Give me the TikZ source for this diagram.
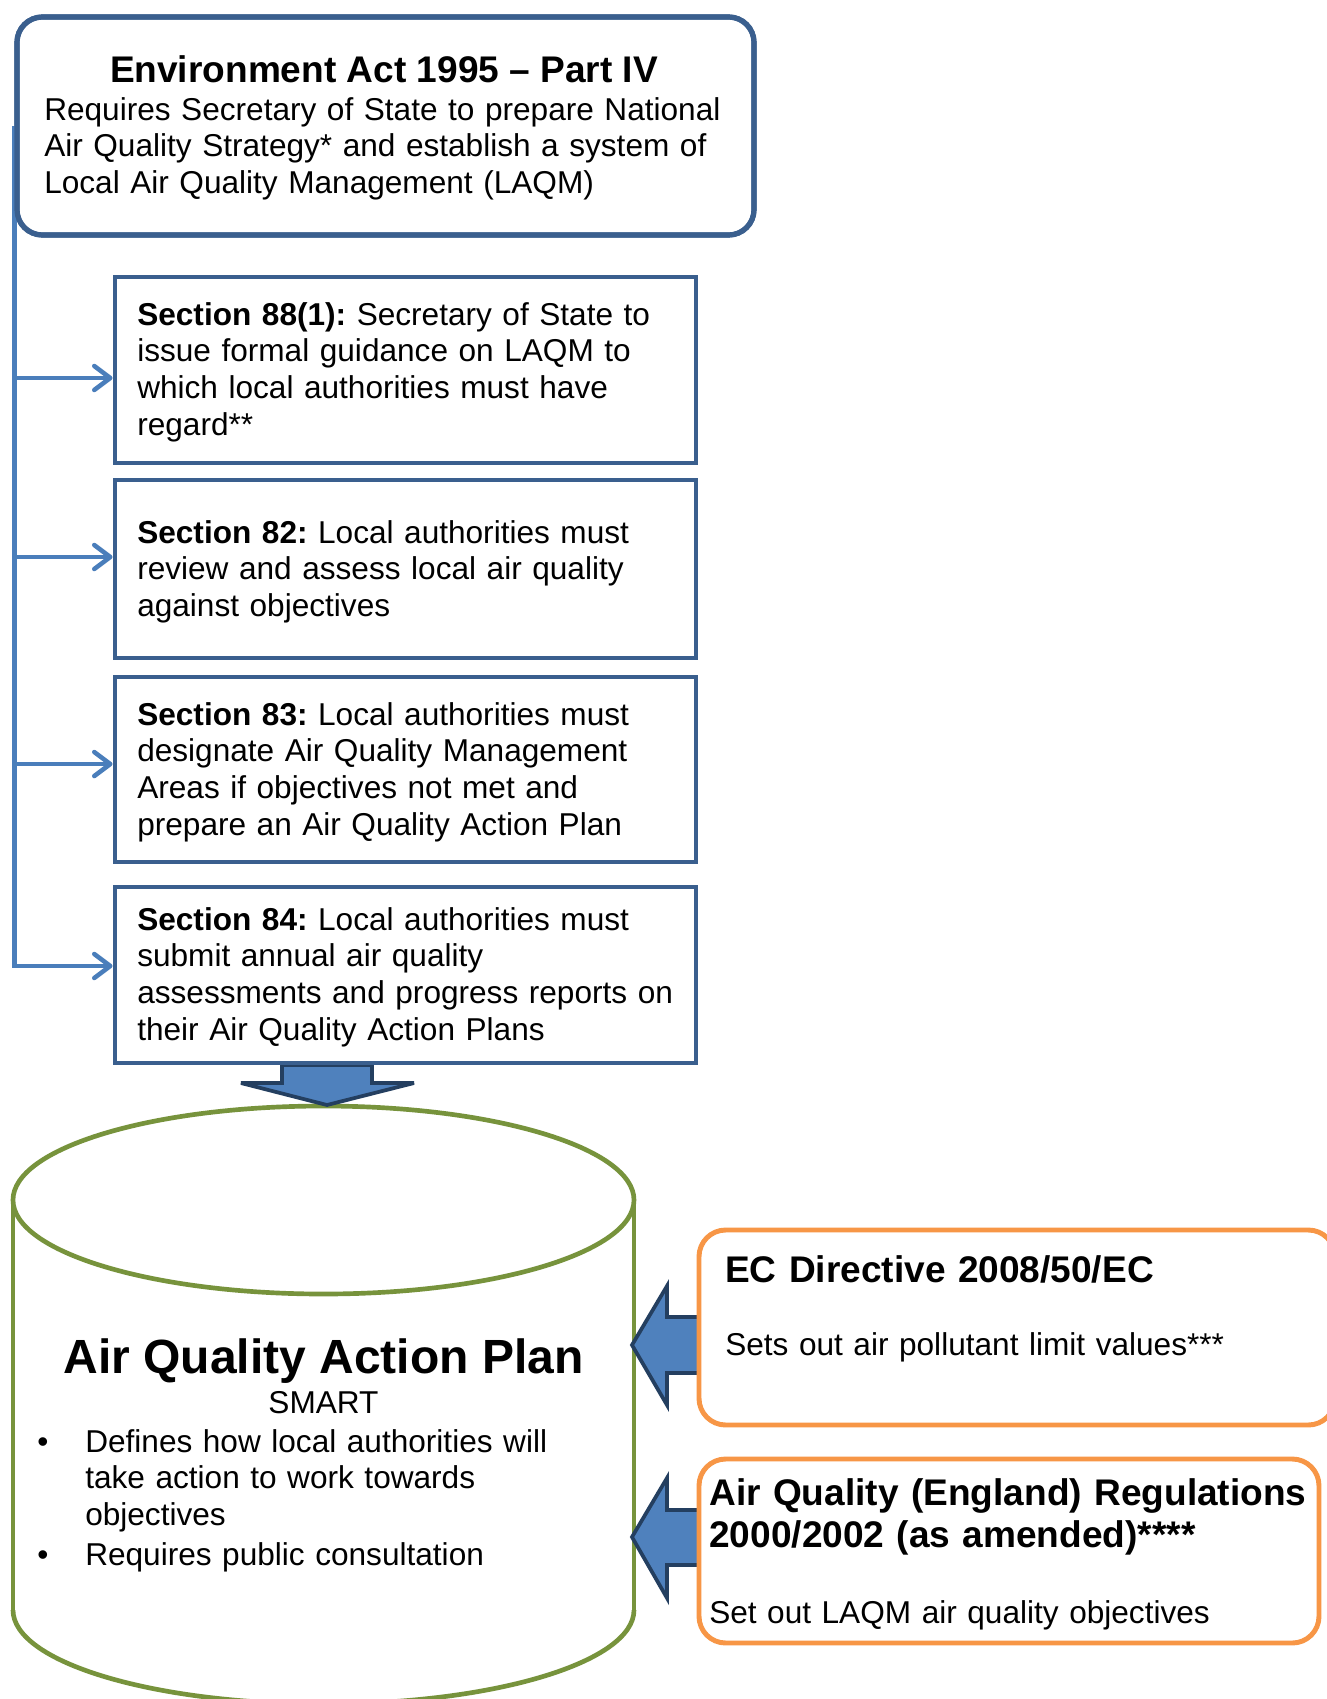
\documentclass[tikz,border=0pt]{standalone}
\usepackage{fontspec}
\setmainfont{Liberation Sans}
\usetikzlibrary{arrows.meta}
\definecolor{boxblue}{HTML}{3A5F8E}
\definecolor{connblue}{HTML}{4A7EBB}
\definecolor{arrfill}{HTML}{4F81BD}
\definecolor{arrline}{HTML}{243F60}
\definecolor{cylgreen}{HTML}{77933C}
\definecolor{boxorange}{HTML}{F79646}
\newcommand\myBody{\fontsize{23.7}{27.6}\selectfont}
\newcommand\myHead{\fontsize{27.8}{32.2}\selectfont\bfseries}
\newcommand\myBig{\fontsize{36}{41.4}\selectfont\bfseries}
\frenchspacing
\begin{document}
\begin{tikzpicture}[x=0.75pt,y=-0.75pt,
  actbox/.style={draw=boxblue, line width=3.9pt, fill=white, rounded corners=19pt, inner sep=0pt},
  secbox/.style={draw=boxblue, line width=3.7pt, fill=white, inner sep=0pt, minimum width=435.75pt},
  orbox/.style={draw=boxorange, line width=3.7pt, fill=white, rounded corners=20pt, inner sep=0pt},
  conn/.style={draw=connblue, line width=3.4pt},
  connarrow/.style={conn, -{Straight Barb[length=12pt,width=18pt,round]}},
  blockarrow/.style={fill=arrfill, draw=arrline, line width=2.8pt, line join=miter},
  cylline/.style={draw=cylgreen, line width=3.5pt},
  cylside/.style={draw=cylgreen, line width=2.6pt},
  txt/.style={inner sep=0pt, font=\myBody, text width=600pt, align=left, anchor=base west},
  htxt/.style={inner sep=0pt, font=\myHead, text width=640pt, align=left, anchor=base west}]
\clip (0,0) rectangle (1327,1699);
\fill[white] (0,0) rectangle (1327,1699);

% ---- cylinder ----
\draw[cylside] (13,1200) -- (13,1612);
\draw[cylside] (634,1200) -- (634,1612);
\begin{scope}
  \clip (0,1610) rectangle (1327,1710);
  \draw[cylline] (323.5,1610) ellipse[x radius=310.5, y radius=94];
\end{scope}
\draw[cylline] (323.5,1200) ellipse[x radius=310.5, y radius=94];

% ---- block arrows ----
\draw[blockarrow, miter limit=2] (282,1065) -- (372,1065) -- (372,1083) -- (414,1083) -- (327,1105) -- (241,1083) -- (282,1083) -- cycle;
\draw[blockarrow, miter limit=5] (632,1345) -- (667,1286) -- (667,1317) -- (702,1317) -- (702,1373) -- (667,1373) -- (667,1405) -- cycle;
\draw[blockarrow, miter limit=5] (632,1537) -- (667,1478) -- (667,1510) -- (702,1510) -- (702,1565) -- (667,1565) -- (667,1598) -- cycle;

% ---- boxes ----
\node[actbox, minimum width=552.75pt, minimum height=163.5pt] (act) at (385.5,126) {};
\node[secbox, minimum height=139.5pt] (s88) at (405.5,370) {};
\node[secbox, minimum height=133.5pt] (s82) at (405.5,569) {};
\node[secbox, minimum height=138.75pt] (s83) at (405.5,769.5) {};
\node[secbox, minimum height=132pt] (s84) at (405.5,975) {};
\node[orbox, minimum width=477pt, minimum height=146.25pt] (ec) at (1017,1327.5) {};
\node[orbox, minimum width=465pt, minimum height=138pt] (aqr) at (1009,1551) {};

% ---- connectors ----
\coordinate (a88) at ([yshift=-6pt]s88.west);
\coordinate (a82) at ([yshift=9pt]s82.west);
\coordinate (a83) at ([yshift=4.1pt]s83.west);
\coordinate (a84) at ([yshift=6.75pt]s84.west);
\draw[connarrow] (act.west) |- (a84);
\draw[connarrow] (a88 -| act.west) -- (a88);
\draw[connarrow] (a82 -| act.west) -- (a82);
\draw[connarrow] (a83 -| act.west) -- (a83);
% redraw top box border over spine
\node[actbox, fill=none, minimum width=552.75pt, minimum height=163.5pt] (actb) at (385.5,126) {};

% ---- texts ----
\node[inner sep=0pt, font=\myHead, anchor=base] (acttitle) at (384,82) {Environment Act 1995 -- Part IV};
\node[txt] (acttext) at (44,120) {Requires Secretary of State to prepare National\\Air Quality Strategy* and establish a system of\\Local Air Quality Management (LAQM)};

\node[txt] (s88t) at (137,325) {\textbf{Section 88(1):} Secretary of State to\\issue formal guidance on LAQM to\\which local authorities must have\\regard**};
\node[txt] (s82t) at (137,543) {\textbf{Section 82:} Local authorities must\\review and assess local air quality\\against objectives};
\node[txt] (s83t) at (137,725) {\textbf{Section 83:} Local authorities must\\designate Air Quality Management\\Areas if objectives not met and\\prepare an Air Quality Action Plan};
\node[txt] (s84t) at (137,930) {\textbf{Section 84:} Local authorities must\\submit annual air quality\\assessments and progress reports on\\their Air Quality Action Plans};

\node[inner sep=0pt, font=\myBig, anchor=base] (aqap) at (323.5,1373) {Air Quality Action Plan};
\node[inner sep=0pt, font=\myBody, anchor=base] (smart) at (323.5,1413) {SMART};
\node[inner sep=0pt, font=\myBody, anchor=base west] (b1) at (37,1452) {•};
\node[txt] (b1t) at (85,1452) {Defines how local authorities will\\take action to work towards\\objectives};
\node[inner sep=0pt, font=\myBody, anchor=base west] (b2) at (37,1565) {•};
\node[txt] (b2t) at (85,1565) {Requires public consultation};

\node[htxt] (ectitle) at (725,1282) {EC Directive 2008/50/EC};
\node[txt] (ectext) at (725,1355) {Sets out air pollutant limit values***};
\node[htxt] (aqrtitle) at (709,1505) {Air Quality (England) Regulations\\2000/2002 (as amended)****};
\node[txt] (aqrtext) at (709,1623) {Set out LAQM air quality objectives};
\end{tikzpicture}
\end{document}
